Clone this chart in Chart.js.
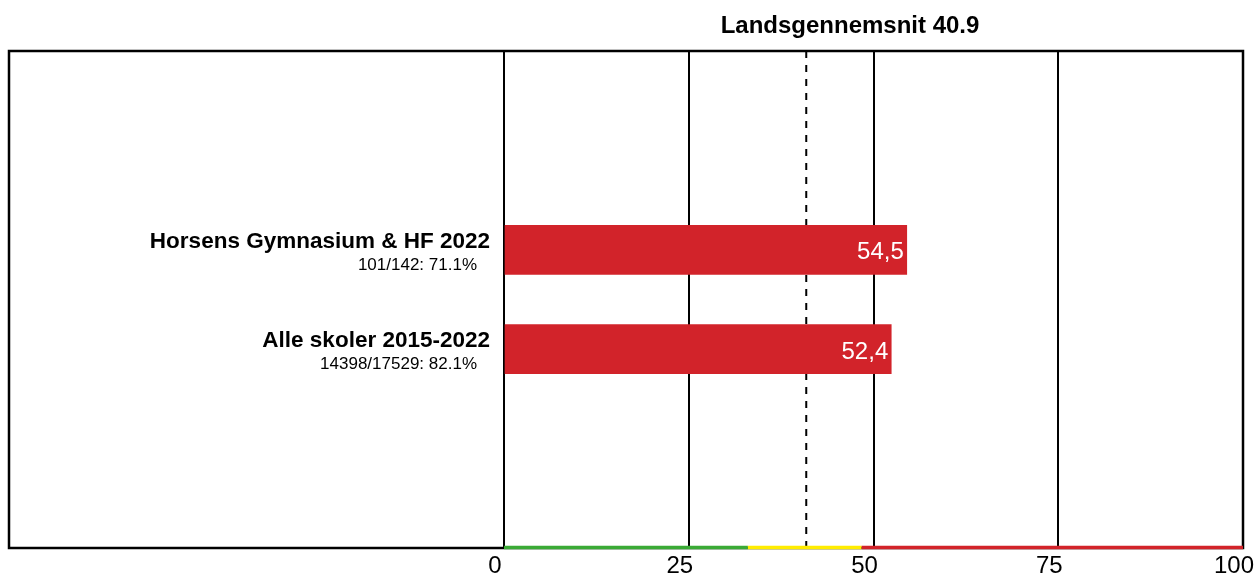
<!DOCTYPE html>
<html>
<head>
<meta charset="utf-8">
<script src="https://cdn.jsdelivr.net/npm/chart.js@4/dist/chart.umd.min.js"></script>
<style>
    html, body { margin: 0; padding: 0; background: #fff; }
    #wrap { width: 1254px; height: 578px; }
</style>
</head>
<body>
<div id="wrap"><canvas id="chart"></canvas></div>
<script>
// ==================== DATA ====================
const categories = ['Horsens Gymnasium & HF 2022', 'Alle skoler 2015-2022'];
const subLabels = ['101/142: 71.1%', '14398/17529: 82.1%'];
const values = [54.5, 52.4];
const nationalAvg = 40.9;
const xTicks = [0, 25, 50, 75, 100];
// colour bands along the bottom axis
const bandLimits = [0, 33, 48.4, 100];
const bandColors = ['#3aaa35', '#ffec00', '#d2232a'];

const FONT = '"Liberation Sans", Arial, sans-serif';
const BAR_RED = '#d2232a';

// two empty slots above and below so the bars sit near the middle
const yLabels = ['', ''].concat(categories, ['', '']);
const yData = [null, null].concat(values, [null, null]);

// dashed national average line, drawn under the bars
const avgLinePlugin = {
    id: 'avgLine',
    beforeDatasetsDraw(chart) {
        const { ctx, chartArea, scales } = chart;
        const x = scales.x.getPixelForValue(nationalAvg);
        ctx.save();
        ctx.strokeStyle = '#000';
        ctx.lineWidth = 2;
        ctx.setLineDash([7, 7]);
        ctx.beginPath();
        ctx.moveTo(x, chartArea.top);
        ctx.lineTo(x, chartArea.bottom);
        ctx.stroke();
        ctx.restore();
    }
};

// frame, colour strip, labels and title
const decorPlugin = {
    id: 'decor',
    afterDraw(chart) {
        const { ctx, chartArea, scales } = chart;
        const xs = scales.x, ys = scales.y;
        ctx.save();

        // outer frame
        ctx.strokeStyle = '#000';
        ctx.lineWidth = 2.5;
        ctx.strokeRect(9, chartArea.top, chartArea.right - 9, chartArea.bottom - chartArea.top);

        // colour bands on the bottom edge
        ctx.lineWidth = 3.5;
        for (let i = 0; i < bandColors.length; i++) {
            ctx.strokeStyle = bandColors[i];
            ctx.beginPath();
            ctx.moveTo(xs.getPixelForValue(bandLimits[i]), chartArea.bottom - 0.5);
            ctx.lineTo(xs.getPixelForValue(bandLimits[i + 1]), chartArea.bottom - 0.5);
            ctx.stroke();
        }

        // category labels on the left
        ctx.fillStyle = '#000';
        ctx.textAlign = 'right';
        ctx.textBaseline = 'alphabetic';
        categories.forEach((cat, i) => {
            const y = ys.getPixelForValue(i + 2);
            ctx.font = 'bold 22.5px ' + FONT;
            ctx.fillText(cat, 490, y - 2);
            ctx.font = '17px ' + FONT;
            ctx.fillText(subLabels[i], 477, y + 20);
        });

        // value labels inside bars
        const meta = chart.getDatasetMeta(0);
        ctx.fillStyle = '#fff';
        ctx.font = '24px ' + FONT;
        meta.data.forEach((bar, i) => {
            const v = yData[i];
            if (v === null || v === undefined) return;
            ctx.fillText(v.toFixed(1).replace('.', ','), bar.x - 3, bar.y + 9.5);
        });

        // title
        ctx.fillStyle = '#000';
        ctx.textAlign = 'center';
        ctx.font = 'bold 24px ' + FONT;
        ctx.fillText('Landsgennemsnit ' + nationalAvg, 850, 33);

        ctx.restore();
    }
};

new Chart(document.getElementById('chart'), {
    type: 'bar',
    data: {
        labels: yLabels,
        datasets: [{
            data: yData,
            backgroundColor: BAR_RED,
            borderWidth: 0,
            barThickness: 49
        }]
    },
    options: {
        indexAxis: 'y',
        responsive: true,
        maintainAspectRatio: false,
        animation: false,
        layout: {
            padding: { left: 504, top: 51, right: 11, bottom: 0 }
        },
        plugins: {
            legend: { display: false },
            tooltip: { enabled: false }
        },
        scales: {
            x: {
                min: 0,
                max: 100,
                afterBuildTicks: (scale) => {
                    scale.ticks = xTicks.map(v => ({ value: v }));
                },
                afterFit: (scale) => {
                    scale.height = 30;
                    scale.paddingLeft = 0;
                    scale.paddingRight = 0;
                },
                border: { display: false },
                grid: {
                    color: '#000',
                    lineWidth: 2,
                    drawTicks: false
                },
                ticks: {
                    color: '#000',
                    font: { family: FONT, size: 24 },
                    padding: 4,
                    labelOffset: -9,
                    maxRotation: 0,
                    autoSkip: false
                }
            },
            y: {
                display: false,
                offset: false
            }
        }
    },
    plugins: [avgLinePlugin, decorPlugin]
});
</script>
</body>
</html>
